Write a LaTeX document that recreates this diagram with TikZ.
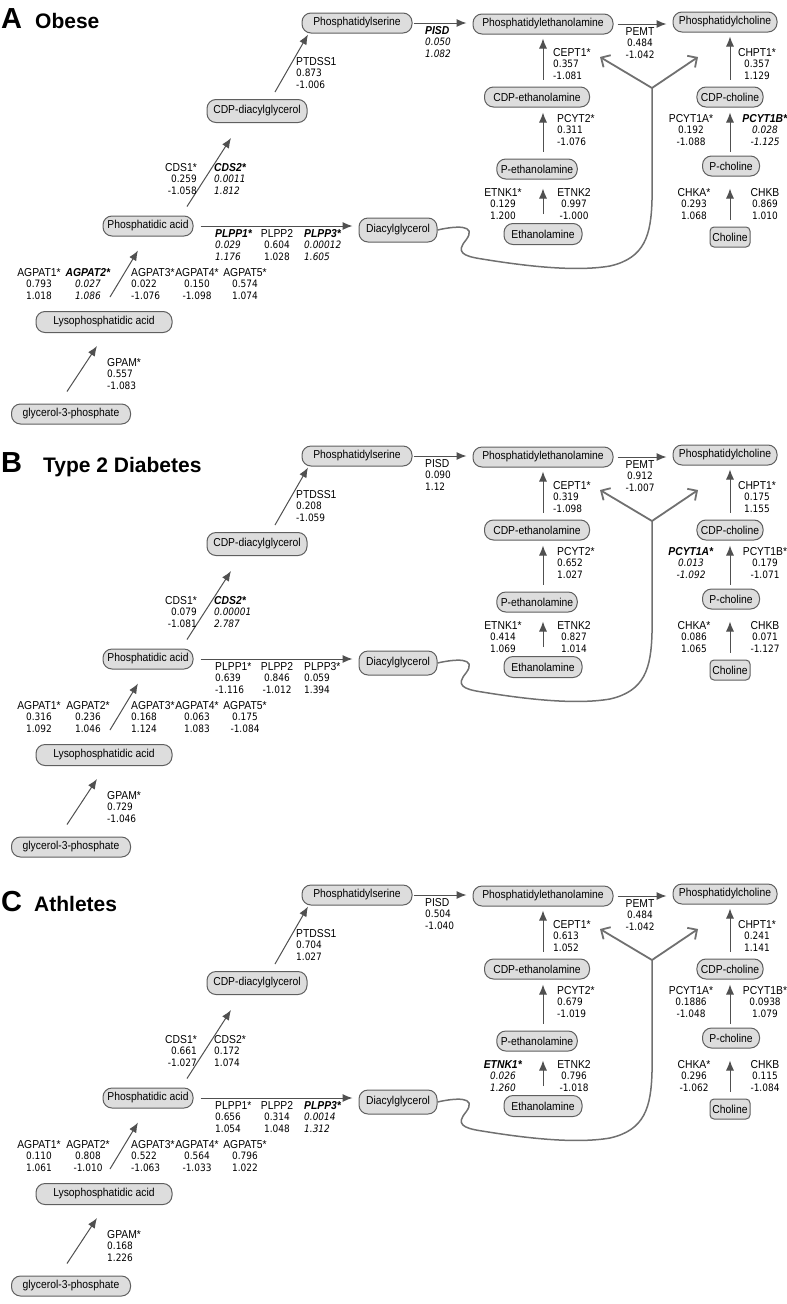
\documentclass[tikz,border=0pt]{standalone}
\usepackage{fontspec}
\setmainfont{Liberation Sans}
\newfontfamily\nfont{Liberation Sans}[FakeStretch=0.9]
\newfontfamily\numfam{DejaVu Sans}[FakeStretch=0.88]
\usetikzlibrary{arrows.meta,positioning,calc}

\definecolor{metfill}{RGB}{221,221,221}
\definecolor{metline}{RGB}{95,95,95}
\definecolor{arrcol}{RGB}{80,80,80}
\definecolor{brcol}{RGB}{112,112,112}

\tikzset{
  met/.style={draw=metline, fill=metfill, line width=1pt, rounded corners=9pt,
    minimum height=20pt, inner xsep=4pt, inner ysep=0pt, font=\nfont\fontsize{11.5}{12}\selectfont},
  gene/.style={inner sep=0pt, align=center, font=\nfont\fontsize{11.5}{11}\selectfont},
  rxn/.style={draw=arrcol, line width=1pt, -{Latex[length=10pt,width=8pt]}},
  dagline/.style={draw=brcol, line width=1.5pt},
  brarr/.style={draw=brcol, line width=1.8pt, -{Straight Barb[length=7pt,width=14pt]}},
  ttl/.style={inner sep=0pt, font=\bfseries\fontsize{29}{29}\selectfont},
  subttl/.style={inner sep=0pt, font=\bfseries\fontsize{21}{21}\selectfont}
}

\newcommand{\vsz}{\numfam\fontsize{10.2}{11}\selectfont}
% gene label: name, p value, fold change
\newcommand{\gtxt}[3]{#1\\{\vsz #2}\\[1.5pt]{\vsz #3}}
\newcommand{\gsig}[3]{\textbf{\textit{#1}}\\{\vsz\itshape #2}\\[1.5pt]{\vsz\itshape #3}}

% metabolites and reactions of one panel
\newcommand{\pathway}[1]{%
  \node[met, minimum width=119pt] (#1-g3p) at (71,414) {glycerol-3-phosphate};
  \node[met, minimum width=136pt, minimum height=21pt] (#1-lpa) at (104,322) {Lysophosphatidic acid};
  \node[met, minimum width=90pt] (#1-pa) at (148,226) {Phosphatidic acid};
  \node[met, minimum width=100pt, minimum height=23pt] (#1-cdpdag) at (257,111) {CDP-diacylglycerol};
  \node[met, minimum width=110pt] (#1-ps) at (357,23) {Phosphatidylserine};
  \node[met, minimum width=140pt] (#1-pe) at (543,24) {Phosphatidylethanolamine};
  \node[met, minimum width=104pt] (#1-pc) at (725,22) {Phosphatidylcholine};
  \node[met, minimum width=78pt, minimum height=24pt] (#1-dag) at (398,230) {Diacylglycerol};
  \node[met, minimum width=105pt] (#1-cdpe) at (537,97) {CDP-ethanolamine};
  \node[met, minimum width=80pt] (#1-pet) at (537,169) {P-ethanolamine};
  \node[met, minimum width=78pt, minimum height=21pt] (#1-etn) at (543,234) {Ethanolamine};
  \node[met, minimum width=63pt] (#1-cdpc) at (730,97) {CDP-choline};
  \node[met, minimum width=57pt] (#1-pcho) at (731,166) {P-choline};
  \node[met, rounded corners=4pt, inner xsep=1pt, minimum width=40pt] (#1-cho) at (730,237) {Choline};
  % synthesis chain
  \draw[rxn] ([xshift=-4pt,yshift=12pt]#1-g3p.north) -- ([xshift=-7pt,yshift=-13pt]#1-lpa.south);
  \draw[rxn] ([xshift=6pt,yshift=14pt]#1-lpa.north) -- ([xshift=-10pt,yshift=-14pt]#1-pa.south);
  \draw[rxn] ([xshift=39pt,yshift=9pt]#1-pa.north) -- ([xshift=-26pt,yshift=-15pt]#1-cdpdag.south);
  \draw[rxn] ([xshift=18pt,yshift=7pt]#1-cdpdag.north) -- ([xshift=-49pt,yshift=-1pt]#1-ps.south);
  \draw[rxn, shorten <=1pt, shorten >=6pt] (#1-ps.east) -- (#1-ps.east -| #1-pe.west);
  \draw[rxn, shorten <=4pt, shorten >=6pt] (#1-pe.east) -- (#1-pe.east -| #1-pc.west);
  \draw[rxn, shorten <=7pt, shorten >=6pt] (#1-pa.east) -- (#1-pa.east -| #1-dag.west);
  % ethanolamine branch
  \draw[rxn, shorten <=7pt, shorten >=4pt] (#1-cdpe.north -| #1-pe.south) -- (#1-pe.south);
  \draw[rxn, shorten <=7pt, shorten >=5pt] (#1-pet.north -| #1-pe.south) -- (#1-cdpe.south -| #1-pe.south);
  \draw[rxn, shorten <=9pt, shorten >=9pt] (#1-etn.north -| #1-pe.south) -- (#1-pet.south -| #1-pe.south);
  % choline branch
  \draw[rxn, shorten <=7pt, shorten >=4pt] (#1-cdpc.north) -- (#1-pc.south -| #1-cdpc.north);
  \draw[rxn, shorten <=4pt, shorten >=5pt] (#1-pcho.north -| #1-cdpc.south) -- (#1-cdpc.south);
  \draw[rxn, shorten <=7pt, shorten >=12pt] (#1-cho.north) -- (#1-pcho.south -| #1-cho.north);
  % diacylglycerol to PE and PC
  \coordinate (#1-br) at (652,88);
  \coordinate (#1-brl) at (600,57);
  \coordinate (#1-brr) at (698,57);
  \draw[dagline] (#1-dag.east) .. controls (455,226) and (478,224) .. (466,240)
    .. controls (456,252) and (462,256) .. (482,259)
    .. controls (525,266) and (575,272) .. (610,266)
    .. controls (645,258) and (651,235) .. (652,200) -- (#1-br);
  \draw[brarr] (#1-br) -- (#1-brl);
  \draw[brarr] (#1-br) -- (#1-brr);
}

\begin{document}
\begin{tikzpicture}[x=1pt,y=-1pt]
\useasboundingbox (0,0) rectangle (787,1304);

% A
\node[ttl, anchor=base west] (a-ttl) at (1,28) {A};
\node[subttl, anchor=base west] (a-name) at (35,28) {Obese};
\begin{scope}
\pathway{a}
\node[gene, anchor=north west, align=left] (a-ptdss1) at (296,57) {\gtxt{PTDSS1}{0.873}{-1.006}};
\node[gene, anchor=north east, align=right] (a-cds1) at (197,163) {\gtxt{CDS1*}{0.259}{-1.058}};
\node[gene, anchor=north west, align=left] (a-cds2) at (214,163) {\gsig{CDS2*}{0.0011}{1.812}};
\node[gene, anchor=north west, align=left] (a-pisd) at (425,26) {\gsig{PISD}{0.050}{1.082}};
\node[gene, anchor=north] (a-pemt) at (640,27) {\gtxt{PEMT}{0.484}{-1.042}};
\node[gene, anchor=north west, align=left] (a-cept1) at (553,48) {\gtxt{CEPT1*}{0.357}{-1.081}};
\node[gene, anchor=north west, align=left] (a-pcyt2) at (557,114) {\gtxt{PCYT2*}{0.311}{-1.076}};
\node[gene, anchor=north] (a-etnk1) at (503,188) {\gtxt{ETNK1*}{0.129}{1.200}};
\node[gene, anchor=north] (a-etnk2) at (574,188) {\gtxt{ETNK2}{0.997}{-1.000}};
\node[gene, anchor=north] (a-chpt1) at (757,48) {\gtxt{CHPT1*}{0.357}{1.129}};
\node[gene, anchor=north] (a-pcyt1a) at (691,114) {\gtxt{PCYT1A*}{0.192}{-1.088}};
\node[gene, anchor=north] (a-pcyt1b) at (765,114) {\gsig{PCYT1B*}{0.028}{-1.125}};
\node[gene, anchor=north] (a-chka) at (694,188) {\gtxt{CHKA*}{0.293}{1.068}};
\node[gene, anchor=north] (a-chkb) at (765,188) {\gtxt{CHKB}{0.869}{1.010}};
\node[gene, anchor=north west, align=left] (a-plpp1) at (215,229) {\gsig{PLPP1*}{0.029}{1.176}};
\node[gene, anchor=north] (a-plpp2) at (277,229) {\gtxt{PLPP2}{0.604}{1.028}};
\node[gene, anchor=north west, align=left] (a-plpp3) at (304,229) {\gsig{PLPP3*}{0.00012}{1.605}};
\node[gene, anchor=north] (a-agpat1) at (39,268) {\gtxt{AGPAT1*}{0.793}{1.018}};
\node[gene, anchor=north] (a-agpat2) at (88,268) {\gsig{AGPAT2*}{0.027}{1.086}};
\node[gene, anchor=north west, align=left] (a-agpat3) at (131,268) {\gtxt{AGPAT3*}{0.022}{-1.076}};
\node[gene, anchor=north] (a-agpat4) at (197,268) {\gtxt{AGPAT4*}{0.150}{-1.098}};
\node[gene, anchor=north] (a-agpat5) at (245,268) {\gtxt{AGPAT5*}{0.574}{1.074}};
\node[gene, anchor=north west, align=left] (a-gpam) at (107,358) {\gtxt{GPAM*}{0.557}{-1.083}};
\end{scope}

% B
\node[ttl, anchor=base west] (b-ttl) at (1,472) {B};
\node[subttl, anchor=base west] (b-name) at (43,472) {Type 2 Diabetes};
\begin{scope}[yshift=-433pt]
\pathway{b}
\node[gene, anchor=north west, align=left] (b-ptdss1) at (296,57) {\gtxt{PTDSS1}{0.208}{-1.059}};
\node[gene, anchor=north east, align=right] (b-cds1) at (197,163) {\gtxt{CDS1*}{0.079}{-1.081}};
\node[gene, anchor=north west, align=left] (b-cds2) at (214,163) {\gsig{CDS2*}{0.00001}{2.787}};
\node[gene, anchor=north west, align=left] (b-pisd) at (425,26) {\gtxt{PISD}{0.090}{1.12}};
\node[gene, anchor=north] (b-pemt) at (640,27) {\gtxt{PEMT}{0.912}{-1.007}};
\node[gene, anchor=north west, align=left] (b-cept1) at (553,48) {\gtxt{CEPT1*}{0.319}{-1.098}};
\node[gene, anchor=north west, align=left] (b-pcyt2) at (557,114) {\gtxt{PCYT2*}{0.652}{1.027}};
\node[gene, anchor=north] (b-etnk1) at (503,188) {\gtxt{ETNK1*}{0.414}{1.069}};
\node[gene, anchor=north] (b-etnk2) at (574,188) {\gtxt{ETNK2}{0.827}{1.014}};
\node[gene, anchor=north] (b-chpt1) at (757,48) {\gtxt{CHPT1*}{0.175}{1.155}};
\node[gene, anchor=north] (b-pcyt1a) at (691,114) {\gsig{PCYT1A*}{0.013}{-1.092}};
\node[gene, anchor=north] (b-pcyt1b) at (765,114) {\gtxt{PCYT1B*}{0.179}{-1.071}};
\node[gene, anchor=north] (b-chka) at (694,188) {\gtxt{CHKA*}{0.086}{1.065}};
\node[gene, anchor=north] (b-chkb) at (765,188) {\gtxt{CHKB}{0.071}{-1.127}};
\node[gene, anchor=north west, align=left] (b-plpp1) at (215,229) {\gtxt{PLPP1*}{0.639}{-1.116}};
\node[gene, anchor=north] (b-plpp2) at (277,229) {\gtxt{PLPP2}{0.846}{-1.012}};
\node[gene, anchor=north west, align=left] (b-plpp3) at (304,229) {\gtxt{PLPP3*}{0.059}{1.394}};
\node[gene, anchor=north] (b-agpat1) at (39,268) {\gtxt{AGPAT1*}{0.316}{1.092}};
\node[gene, anchor=north] (b-agpat2) at (88,268) {\gtxt{AGPAT2*}{0.236}{1.046}};
\node[gene, anchor=north west, align=left] (b-agpat3) at (131,268) {\gtxt{AGPAT3*}{0.168}{1.124}};
\node[gene, anchor=north] (b-agpat4) at (197,268) {\gtxt{AGPAT4*}{0.063}{1.083}};
\node[gene, anchor=north] (b-agpat5) at (245,268) {\gtxt{AGPAT5*}{0.175}{-1.084}};
\node[gene, anchor=north west, align=left] (b-gpam) at (107,358) {\gtxt{GPAM*}{0.729}{-1.046}};
\end{scope}

% C
\node[ttl, anchor=base west] (c-ttl) at (1,911) {C};
\node[subttl, anchor=base west] (c-name) at (34,911) {Athletes};
\begin{scope}[yshift=-872pt]
\pathway{c}
\node[gene, anchor=north west, align=left] (c-ptdss1) at (296,57) {\gtxt{PTDSS1}{0.704}{1.027}};
\node[gene, anchor=north east, align=right] (c-cds1) at (197,163) {\gtxt{CDS1*}{0.661}{-1.027}};
\node[gene, anchor=north west, align=left] (c-cds2) at (214,163) {\gtxt{CDS2*}{0.172}{1.074}};
\node[gene, anchor=north west, align=left] (c-pisd) at (425,26) {\gtxt{PISD}{0.504}{-1.040}};
\node[gene, anchor=north] (c-pemt) at (640,27) {\gtxt{PEMT}{0.484}{-1.042}};
\node[gene, anchor=north west, align=left] (c-cept1) at (553,48) {\gtxt{CEPT1*}{0.613}{1.052}};
\node[gene, anchor=north west, align=left] (c-pcyt2) at (557,114) {\gtxt{PCYT2*}{0.679}{-1.019}};
\node[gene, anchor=north] (c-etnk1) at (503,188) {\gsig{ETNK1*}{0.026}{1.260}};
\node[gene, anchor=north] (c-etnk2) at (574,188) {\gtxt{ETNK2}{0.796}{-1.018}};
\node[gene, anchor=north] (c-chpt1) at (757,48) {\gtxt{CHPT1*}{0.241}{1.141}};
\node[gene, anchor=north] (c-pcyt1a) at (691,114) {\gtxt{PCYT1A*}{0.1886}{-1.048}};
\node[gene, anchor=north] (c-pcyt1b) at (765,114) {\gtxt{PCYT1B*}{0.0938}{1.079}};
\node[gene, anchor=north] (c-chka) at (694,188) {\gtxt{CHKA*}{0.296}{-1.062}};
\node[gene, anchor=north] (c-chkb) at (765,188) {\gtxt{CHKB}{0.115}{-1.084}};
\node[gene, anchor=north west, align=left] (c-plpp1) at (215,229) {\gtxt{PLPP1*}{0.656}{1.054}};
\node[gene, anchor=north] (c-plpp2) at (277,229) {\gtxt{PLPP2}{0.314}{1.048}};
\node[gene, anchor=north west, align=left] (c-plpp3) at (304,229) {\gsig{PLPP3*}{0.0014}{1.312}};
\node[gene, anchor=north] (c-agpat1) at (39,268) {\gtxt{AGPAT1*}{0.110}{1.061}};
\node[gene, anchor=north] (c-agpat2) at (88,268) {\gtxt{AGPAT2*}{0.808}{-1.010}};
\node[gene, anchor=north west, align=left] (c-agpat3) at (131,268) {\gtxt{AGPAT3*}{0.522}{-1.063}};
\node[gene, anchor=north] (c-agpat4) at (197,268) {\gtxt{AGPAT4*}{0.564}{-1.033}};
\node[gene, anchor=north] (c-agpat5) at (245,268) {\gtxt{AGPAT5*}{0.796}{1.022}};
\node[gene, anchor=north west, align=left] (c-gpam) at (107,358) {\gtxt{GPAM*}{0.168}{1.226}};
\end{scope}
\end{tikzpicture}
\end{document}
